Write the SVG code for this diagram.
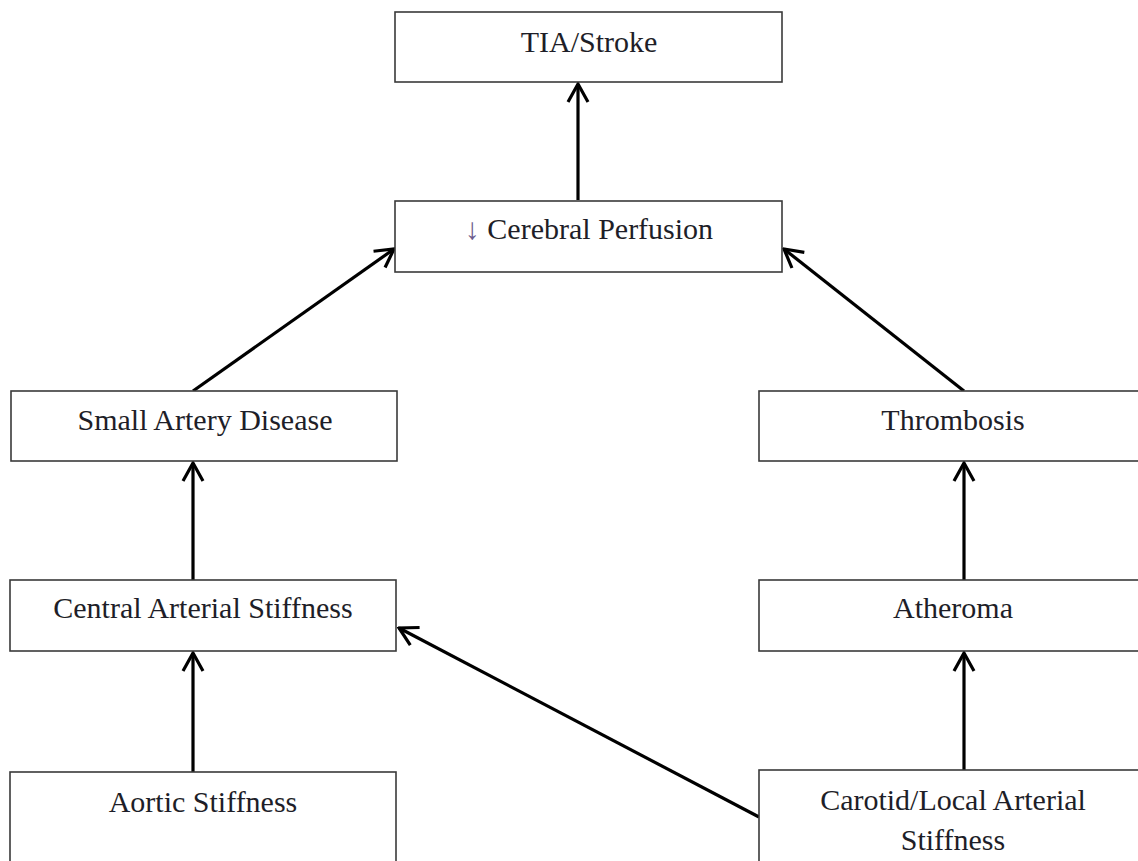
<svg xmlns="http://www.w3.org/2000/svg" width="1138" height="861" viewBox="0 0 1138 861">
<defs>
<style>
.box{fill:#fff;stroke:#3a3a3a;stroke-width:1.6}
.lbl{font-family:'Liberation Serif','Times New Roman',Times,'DejaVu Serif',serif;font-size:30px;fill:#1e1e28;text-anchor:middle}
.edge{stroke:#000;stroke-width:3.2;fill:none;marker-end:url(#ah)}
</style>
<marker id="ah" markerUnits="userSpaceOnUse" viewBox="-20 -12 22 24" refX="0" refY="0" markerWidth="22" markerHeight="24" orient="auto">
<path d="M-18,-10 L0,0 L-18,10" fill="none" stroke="#000" stroke-width="3.2" stroke-linejoin="miter"/>
</marker>
</defs>
<rect width="1138" height="861" fill="#fff"/>
<g id="connectors">
<line class="edge" x1="578" y1="200" x2="578" y2="84"/>
<line class="edge" x1="193" y1="391" x2="394" y2="249"/>
<line class="edge" x1="964" y1="391" x2="784" y2="249"/>
<line class="edge" x1="193" y1="580" x2="193" y2="463"/>
<line class="edge" x1="964" y1="580" x2="964" y2="463"/>
<line class="edge" x1="193" y1="772" x2="193" y2="653"/>
<line class="edge" x1="964" y1="770" x2="964" y2="653"/>
<line class="edge" x1="759" y1="817" x2="399" y2="628"/>
</g>
<g id="tia">
<rect class="box" x="395" y="12" width="387" height="70"/>
<text class="lbl" x="589" y="52">TIA/Stroke</text>
</g>
<g id="cerebral">
<rect class="box" x="395" y="201" width="387" height="71"/>
<text class="lbl" x="589" y="239"><tspan fill="#6b5b8c">↓</tspan> Cerebral Perfusion</text>
</g>
<g id="small-artery">
<rect class="box" x="11" y="391" width="386" height="70"/>
<text class="lbl" x="205" y="430">Small Artery Disease</text>
</g>
<g id="thrombosis">
<rect class="box" x="759" y="391" width="390" height="70"/>
<text class="lbl" x="953" y="430">Thrombosis</text>
</g>
<g id="central">
<rect class="box" x="10" y="580" width="386" height="71"/>
<text class="lbl" x="203" y="618">Central Arterial Stiffness</text>
</g>
<g id="atheroma">
<rect class="box" x="759" y="580" width="390" height="71"/>
<text class="lbl" x="953" y="618">Atheroma</text>
</g>
<g id="aortic">
<rect class="box" x="10" y="772" width="386" height="100"/>
<text class="lbl" x="203" y="812">Aortic Stiffness</text>
</g>
<g id="carotid">
<rect class="box" x="759" y="770" width="390" height="100"/>
<text class="lbl" x="953" y="810">Carotid/Local Arterial</text>
<text class="lbl" x="953" y="850">Stiffness</text>
</g>
</svg>
